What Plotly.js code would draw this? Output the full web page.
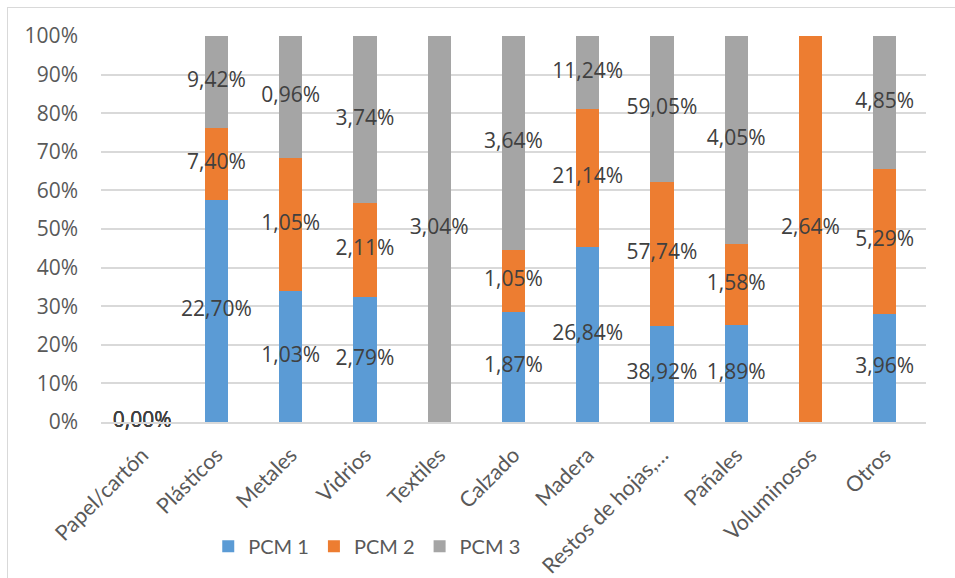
<!DOCTYPE html>
<html><head><meta charset="utf-8">
<script src="https://cdn.plot.ly/plotly-3.0.1.min.js"></script>
<style>
body{margin:0;padding:0;background:#fff;}
#wrap{position:relative;width:955px;height:578px;overflow:hidden;}
#chart{width:955px;height:578px;}
#frame{position:absolute;left:7px;top:7px;width:1100px;height:1100px;border:1.5px solid #d9d9d9;pointer-events:none;}
</style></head>
<body><div id="wrap"><div id="chart"></div><div id="frame"></div></div>
<script>
const categories = ["Papel/cartón","Plásticos","Metales","Vidrios","Textiles","Calzado","Madera","Restos de hojas,…","Pañales","Voluminosos","Otros"];
const seriesNames = ["PCM 1","PCM 2","PCM 3"];
const pcm1 = [0.00, 22.70, 1.03, 2.79, null, 1.87, 26.84, 38.92, 1.89, null, 3.96];
const pcm2 = [0.00, 7.40, 1.05, 2.11, null, 1.05, 21.14, 57.74, 1.58, 2.64, 5.29];
const pcm3 = [0.00, 9.42, 0.96, 3.74, 3.04, 3.64, 11.24, 59.05, 4.05, null, 4.85];
const colors = ["#5b9bd5","#ed7d31","#a5a5a5"];
const yTicks = [0,10,20,30,40,50,60,70,80,90,100];

const series = [pcm1, pcm2, pcm3];
const totals = categories.map((c,i)=>series.reduce((s,a)=>s+(a[i]||0),0));
const shares = series.map(a=>a.map((v,i)=> v===null ? null : (totals[i]>0 ? v/totals[i]*100 : 0)));
const fmt = v => v===null ? "" : v.toFixed(2).replace(".", ",") + "%";

const FS = 21;
const traces = [];
series.forEach((a,k)=>{
  traces.push({type:"bar", name:seriesNames[k], x:categories, y:shares[k],
    marker:{color:colors[k]}, hoverinfo:"skip"});
});
const cum = categories.map(()=>0);
series.forEach((a,k)=>{
  const xs=[], ys=[], ts=[];
  a.forEach((v,i)=>{
    if(v===null) return;
    const s = shares[k][i];
    xs.push(categories[i]); ys.push(cum[i]+s/2); ts.push(fmt(v));
    cum[i]+=s;
  });
  traces.push({type:"scatter", mode:"text", x:xs, y:ys, text:ts, showlegend:false,
    hoverinfo:"skip", cliponaxis:false,
    textfont:{family:"Open Sans, sans-serif", size:FS, color:"#404040"}});
});

const layout = {
  width:955, height:578,
  margin:{l:101, r:29, t:36, b:154},
  paper_bgcolor:"#fff", plot_bgcolor:"#fff",
  barmode:"stack", bargap:0.69,
  font:{family:"Open Sans, sans-serif", color:"#595959", size:FS},
  xaxis:{type:"category", tickangle:-45, showgrid:false, showline:true, linecolor:"#d9d9d9", linewidth:2,
    ticks:"", tickfont:{family:"Lato, sans-serif", size:21.5, color:"#595959"}, ticklabelstandoff:10, fixedrange:true},
  yaxis:{range:[0,100], tickvals:yTicks, ticktext:yTicks.map(v=>v+"%"), showgrid:true, gridcolor:"#d9d9d9", gridwidth:2,
    zeroline:false, showline:false, ticks:"", tickfont:{size:FS, color:"#595959"}, ticklabelstandoff:22, fixedrange:true},
  legend:{orientation:"h", x:0.13, xanchor:"left", y:-0.322, yanchor:"middle",
    font:{family:"Lato, sans-serif", size:20, color:"#595959"}, traceorder:"normal", itemwidth:30},
  showlegend:true
};
Plotly.newPlot("chart", traces, layout, {displayModeBar:false, staticPlot:true});
</script></body></html>
